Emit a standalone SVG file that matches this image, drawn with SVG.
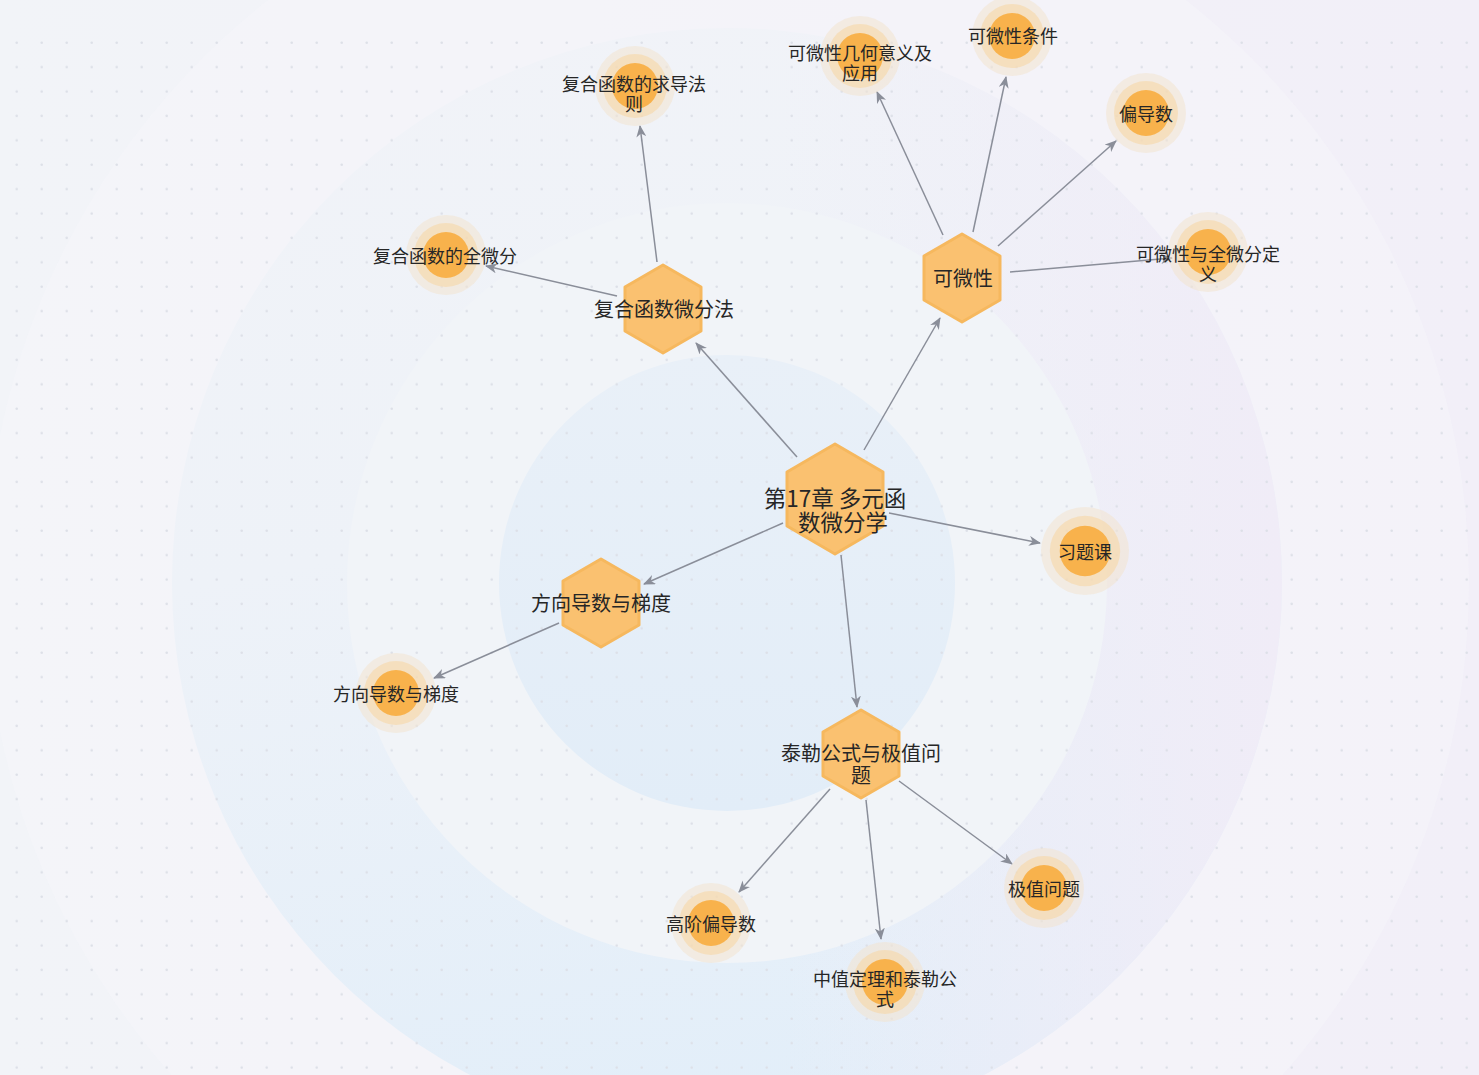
<svg xmlns="http://www.w3.org/2000/svg" width="1479" height="1075" viewBox="0 0 1479 1075">
<defs>
<linearGradient id="base" x1="0" y1="0" x2="1" y2="0">
<stop offset="0" stop-color="#f2f4f8"/><stop offset="1" stop-color="#f2eff8"/>
</linearGradient>
<linearGradient id="ring3" x1="0.2" y1="0" x2="0.4" y2="1">
<stop offset="0" stop-color="#f1f3f8"/><stop offset="0.45" stop-color="#eef2f8"/><stop offset="1" stop-color="#e2eef9"/>
</linearGradient>
<linearGradient id="lav" x1="0" y1="0" x2="1" y2="0">
<stop offset="0.55" stop-color="#f0ecf7" stop-opacity="0"/><stop offset="1" stop-color="#f0ecf7" stop-opacity="1"/>
</linearGradient>
<linearGradient id="ring1" x1="0" y1="0" x2="0" y2="1">
<stop offset="0" stop-color="#e9f0f8"/><stop offset="1" stop-color="#e2edf8"/>
</linearGradient>
<pattern id="dots" patternUnits="userSpaceOnUse" x="0" y="0" width="25" height="24.4">
<circle cx="16.7" cy="18.3" r="1.3" fill="#dde0e8"/>
</pattern>
<marker id="arr" viewBox="0 0 12 10" refX="11" refY="5" markerWidth="12" markerHeight="10" markerUnits="userSpaceOnUse" orient="auto">
<path d="M0,0 L12,5 L0,10 L3.5,5 Z" fill="#8a8e99"/>
</marker>
<g id="halo">
<circle r="40" fill="#f3e4cf" opacity="0.55"/>
<circle r="32" fill="#f6d7a6" opacity="0.6"/>
<circle r="23" fill="#f8b24c"/>
</g>
</defs>
<style>
.hex{fill:#fac170;stroke:#f6b85e;stroke-width:3;stroke-linejoin:round}
.edge{stroke:#8a8e99;stroke-width:1.5;fill:none;marker-end:url(#arr)}
.t{font-family:"Noto Sans CJK SC","Liberation Sans",sans-serif;fill:#262626;text-anchor:middle;dominant-baseline:central}
.lf{font-size:18px}
.hx{font-size:20px}
.mx{font-size:22.5px}
</style>
<g id="background">
<rect width="1479" height="1075" fill="url(#base)"/>
<circle cx="727" cy="583" r="742" fill="#f6f6fa" opacity="0.45"/>
<circle cx="727" cy="583" r="555" fill="url(#ring3)"/>
<circle cx="727" cy="583" r="555" fill="url(#lav)"/>
<circle cx="727" cy="583" r="380" fill="#f1f4f8"/>
<circle cx="727" cy="583" r="228" fill="url(#ring1)"/>
<rect y="30" width="1479" height="1045" fill="url(#dots)"/>
</g>
<g id="connectors">
<line class="edge" x1="797" y1="457" x2="696" y2="343"/>
<line class="edge" x1="864" y1="450" x2="940" y2="318"/>
<line class="edge" x1="889" y1="513" x2="1040" y2="543"/>
<line class="edge" x1="783" y1="523" x2="644" y2="584"/>
<line class="edge" x1="841" y1="555" x2="857" y2="707"/>
<line class="edge" x1="657" y1="262" x2="640" y2="126"/>
<line class="edge" x1="617" y1="296" x2="486" y2="266"/>
<line class="edge" x1="943" y1="235" x2="877" y2="92"/>
<line class="edge" x1="973" y1="232" x2="1006" y2="77"/>
<line class="edge" x1="998" y1="246" x2="1116" y2="141"/>
<line class="edge" x1="1010" y1="272" x2="1172" y2="258"/>
<line class="edge" x1="559" y1="623" x2="434" y2="678"/>
<line class="edge" x1="830" y1="789" x2="739" y2="892"/>
<line class="edge" x1="866" y1="800" x2="881" y2="939"/>
<line class="edge" x1="899" y1="781" x2="1012" y2="864"/>
</g>
<g id="n-main">
<polygon class="hex" points="835,444 883,472 883,526 835,554 787,526 787,472"/>
<text class="t mx" x="835" y="497">第17章 多元函</text>
<text class="t mx" x="843" y="521">数微分学</text>
</g>
<g id="n-composite">
<polygon class="hex" points="663,265 701,287 701,331 663,353 625,331 625,287"/>
<text class="t hx" x="664" y="308">复合函数微分法</text>
</g>
<g id="n-diff">
<polygon class="hex" points="962,234 1000,256 1000,300 962,322 924,300 924,256"/>
<text class="t hx" x="963" y="277">可微性</text>
</g>
<g id="n-dir">
<polygon class="hex" points="601,559 639,581 639,625 601,647 563,625 563,581"/>
<text class="t hx" x="601" y="602">方向导数与梯度</text>
</g>
<g id="n-taylor">
<polygon class="hex" points="861,710 899,732 899,776 861,798 823,776 823,732"/>
<text class="t hx" x="861" y="752">泰勒公式与极值问</text>
<text class="t hx" x="861" y="774">题</text>
</g>
<g id="l-chain">
<use href="#halo" x="635" y="86"/>
<text class="t lf" x="634" y="83">复合函数的求导法</text>
<text class="t lf" x="634" y="103">则</text>
</g>
<g id="l-total">
<use href="#halo" x="446" y="255"/>
<text class="t lf" x="445" y="255">复合函数的全微分</text>
</g>
<g id="l-geo">
<use href="#halo" x="860" y="56"/>
<text class="t lf" x="860" y="52">可微性几何意义及</text>
<text class="t lf" x="860" y="72">应用</text>
</g>
<g id="l-cond">
<use href="#halo" x="1012" y="36"/>
<text class="t lf" x="1013" y="35">可微性条件</text>
</g>
<g id="l-partial">
<use href="#halo" x="1146" y="113"/>
<text class="t lf" x="1146" y="113">偏导数</text>
</g>
<g id="l-def">
<use href="#halo" x="1208" y="252"/>
<text class="t lf" x="1208" y="253">可微性与全微分定</text>
<text class="t lf" x="1208" y="273">义</text>
</g>
<g id="l-ex">
<use href="#halo" x="1085" y="551" transform="translate(1085 551) scale(1.1) translate(-1085 -551)"/>
<text class="t lf" x="1085" y="551">习题课</text>
</g>
<g id="l-dir">
<use href="#halo" x="396" y="693"/>
<text class="t lf" x="396" y="693">方向导数与梯度</text>
</g>
<g id="l-high">
<use href="#halo" x="711" y="923"/>
<text class="t lf" x="711" y="923">高阶偏导数</text>
</g>
<g id="l-mvt">
<use href="#halo" x="885" y="982"/>
<text class="t lf" x="885" y="978">中值定理和泰勒公</text>
<text class="t lf" x="885" y="998">式</text>
</g>
<g id="l-ext">
<use href="#halo" x="1044" y="888"/>
<text class="t lf" x="1044" y="888">极值问题</text>
</g>
</svg>
